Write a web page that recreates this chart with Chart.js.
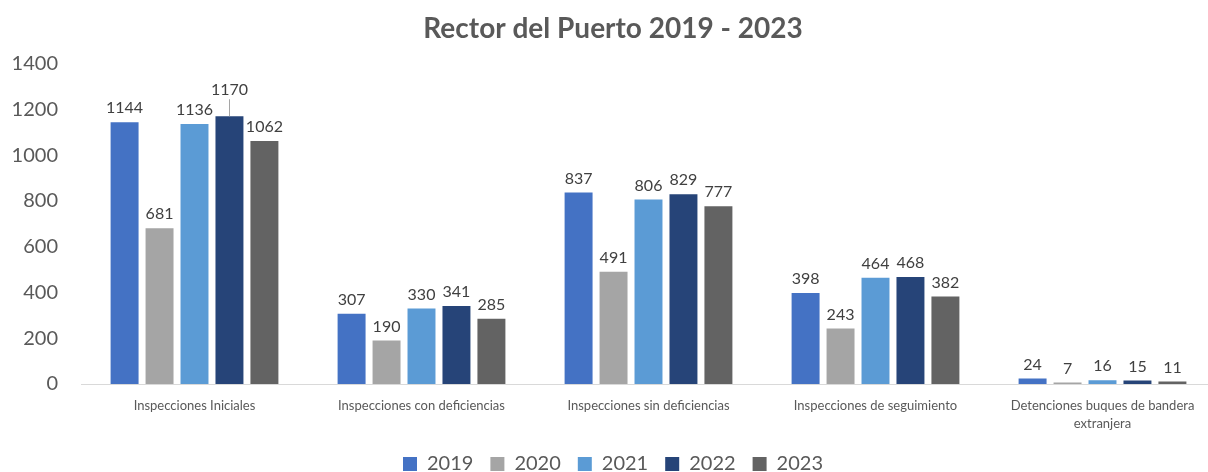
<!DOCTYPE html>
<html>
<head>
<meta charset="utf-8">
<script src="https://cdn.jsdelivr.net/npm/chart.js@4.4.1/dist/chart.umd.min.js"></script>
<style>
    html, body { margin: 0; padding: 0; background: #fff; overflow: hidden; }
    #wrap { width: 1208px; height: 472px; overflow: hidden; }
</style>
</head>
<body>
<div id="wrap"><canvas id="chart" width="1216" height="472"></canvas></div>
<script>
const categories = [
    "Inspecciones Iniciales",
    "Inspecciones con deficiencias",
    "Inspecciones sin deficiencias",
    "Inspecciones de seguimiento",
    ["Detenciones buques de bandera", "extranjera"]
];
const years = ["2019", "2020", "2021", "2022", "2023"];
const values2019 = [1144, 307, 837, 398, 24];
const values2020 = [681, 190, 491, 243, 7];
const values2021 = [1136, 330, 806, 464, 16];
const values2022 = [1170, 341, 829, 468, 15];
const values2023 = [1062, 285, 777, 382, 11];
const yTicks = [0, 200, 400, 600, 800, 1000, 1200, 1400];

const colors = ["#4472C4", "#A5A5A5", "#5B9BD5", "#264478", "#636363"];
const series = [values2019, values2020, values2021, values2022, values2023];

// labels that Excel moved up with a leader line: [dataset, index, extra lift]
const liftedLabels = [[3, 0, 12]];

const FONT = "Lato, 'Open Sans', sans-serif";
const TEXT = "#595959";

const valueLabels = {
    id: "valueLabels",
    afterDatasetsDraw(chart) {
        const ctx = chart.ctx;
        ctx.save();
        ctx.font = "16px " + FONT;
        ctx.fillStyle = "#404040";
        ctx.textAlign = "center";
        ctx.textBaseline = "bottom";
        chart.data.datasets.forEach((ds, di) => {
            const meta = chart.getDatasetMeta(di);
            meta.data.forEach((bar, i) => {
                const lift = liftedLabels.find(l => l[0] === di && l[1] === i);
                let y = bar.y - 6;
                if (lift) {
                    y -= lift[2];
                    ctx.strokeStyle = "#A5A5A5";
                    ctx.lineWidth = 1;
                    ctx.beginPath();
                    ctx.moveTo(Math.round(bar.x) + 0.5, y + 1);
                    ctx.lineTo(Math.round(bar.x) + 0.5, bar.y);
                    ctx.stroke();
                }
                ctx.fillText(ds.data[i], bar.x, y);
            });
        });
        ctx.restore();
    }
};

new Chart(document.getElementById("chart"), {
    type: "bar",
    data: {
        labels: categories,
        datasets: years.map((y, i) => ({
            label: y,
            data: series[i],
            backgroundColor: colors[i],
            borderWidth: 0,
            categoryPercentage: 0.77,
            barPercentage: 0.8
        }))
    },
    options: {
        responsive: false,
        animation: false,
        layout: { padding: { left: 10, right: 0, top: 0, bottom: 0 } },
        scales: {
            x: {
                afterFit: s => { s.height = 53; },
                grid: { display: false, drawTicks: false },
                border: { display: true, color: "#D9D9D9", width: 1 },
                ticks: {
                    color: TEXT,
                    font: { family: FONT, size: 13, lineHeight: 1.4 },
                    maxRotation: 0,
                    autoSkip: false,
                    padding: 13
                }
            },
            y: {
                min: 0,
                max: 1400,
                afterBuildTicks: s => { s.ticks = yTicks.map(v => ({ value: v })); },
                afterFit: s => { s.width = 71; },
                grid: { display: false, drawTicks: false },
                border: { display: false },
                ticks: {
                    color: TEXT,
                    font: { family: FONT, size: 20 },
                    padding: 23,
                    callback: v => String(v)
                }
            }
        },
        plugins: {
            title: {
                display: true,
                text: "Rector del Puerto 2019 - 2023",
                color: TEXT,
                font: { family: FONT, size: 28, weight: "bold" },
                padding: { top: 12, bottom: 18 }
            },
            legend: {
                position: "bottom",
                maxHeight: 35,
                labels: {
                    color: TEXT,
                    font: { family: FONT, size: 20, lineHeight: 1.3 },
                    boxWidth: 14,
                    boxHeight: 14,
                    padding: 17
                }
            },
            tooltip: { enabled: false }
        }
    },
    plugins: [valueLabels]
});
</script>
</body>
</html>
